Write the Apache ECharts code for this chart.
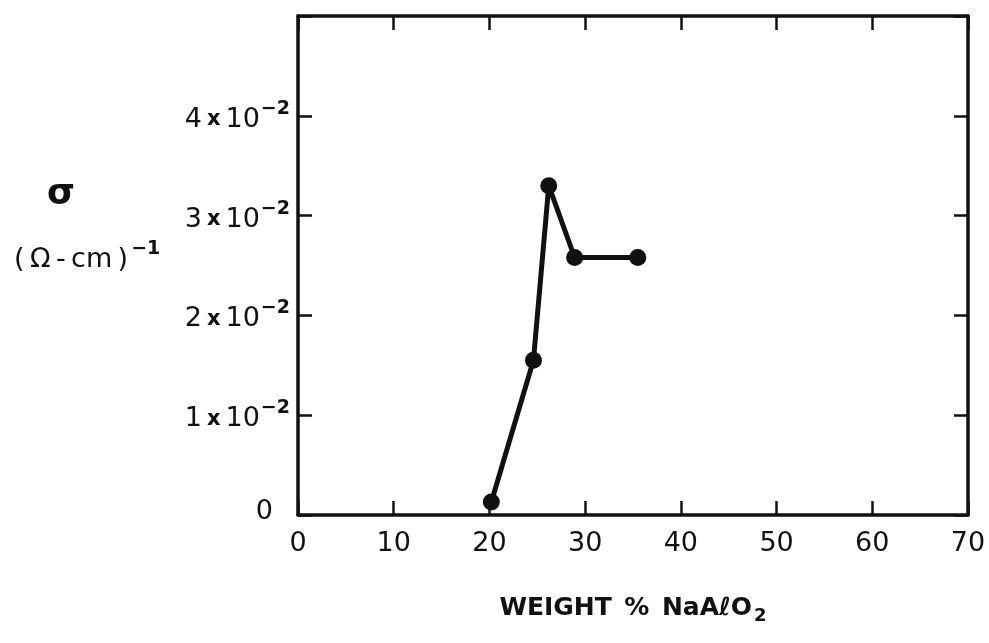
<!DOCTYPE html>
<html>
<head>
<meta charset="utf-8">
<script src="https://cdn.jsdelivr.net/npm/echarts@6/dist/echarts.min.js"></script>
<style>
  html, body { margin: 0; padding: 0; background: #ffffff; }
  #chart { width: 989px; height: 643px; }
</style>
</head>
<body>
<div id="chart"></div>
<script>
// Conductivity of the sample versus NaAlO2 content
const weightPct = [20.2, 24.6, 26.2, 28.9, 35.5];
const sigma = [0.0013, 0.0155, 0.033, 0.0258, 0.0258];

// Axis scales and tick labels
const xTicks = [0, 10, 20, 30, 40, 50, 60, 70];
const yTickMantissa = ['0', '1', '2', '3', '4'];
const yStep = 0.01;
const yMax = 0.05;

const FONT = '"DejaVu Sans", sans-serif';
const INK = '#111111';

const chart = echarts.init(document.getElementById('chart'), null, { renderer: 'canvas' });

const tickStyle = { show: true, inside: true, length: 14, lineStyle: { color: INK, width: 2.5 } };
const axisLineStyle = { show: true, onZero: false, lineStyle: { color: INK, width: 3.5 } };

chart.setOption({
  backgroundColor: '#ffffff',
  animation: false,
  grid: { left: 298, right: 21, top: 16, bottom: 128, containLabel: false },
  xAxis: [
    {
      type: 'value', position: 'bottom', min: 0, max: 70, interval: 10,
      axisLine: axisLineStyle, axisTick: tickStyle, splitLine: { show: false },
      axisLabel: {
        margin: 15, color: INK, fontFamily: FONT, fontSize: 27,
        formatter: v => xTicks.includes(v) ? String(v) : ''
      },
      name: '{t|WEIGHT\u2002%\u2002NaAℓO}{sub|2}',
      nameLocation: 'middle', nameGap: 77,
      nameTextStyle: {
        rich: {
          t: { fontFamily: FONT, fontSize: 25, color: INK, fontWeight: 'bold' },
          sub: { fontFamily: FONT, fontSize: 18, color: INK, fontWeight: 'bold', padding: [15, 0, 0, 2] }
        }
      }
    },
    {
      type: 'value', position: 'top', min: 0, max: 70, interval: 10,
      axisLine: axisLineStyle, axisTick: tickStyle, axisLabel: { show: false }, splitLine: { show: false }
    }
  ],
  yAxis: [
    {
      type: 'value', position: 'left', min: 0, max: yMax, interval: yStep,
      axisLine: axisLineStyle, axisTick: tickStyle, splitLine: { show: false },
      axisLabel: {
        margin: 8, color: INK,
        formatter: v => {
          const i = Math.round(v / yStep);
          if (i >= yTickMantissa.length) return '';
          if (i === 0) return '{z|' + yTickMantissa[0] + '}';
          return '{m|' + yTickMantissa[i] + '}{x|x}{m|10}{s|\u22122}';
        },
        rich: {
          z: { fontFamily: FONT, fontSize: 27, color: INK, padding: [0, 17, 6, 0] },
          m: { fontFamily: FONT, fontSize: 27, color: INK, padding: [8, 0, 0, 0] },
          x: { fontFamily: FONT, fontSize: 21, color: INK, fontWeight: 'bold', padding: [8, 5, 0, 5] },
          s: { fontFamily: FONT, fontSize: 19, color: INK, fontWeight: 'bold', padding: [0, 0, 14, 1] }
        }
      }
    },
    {
      type: 'value', position: 'right', min: 0, max: yMax, interval: yStep,
      axisLine: axisLineStyle, axisTick: tickStyle, axisLabel: { show: false }, splitLine: { show: false }
    }
  ],
  graphic: [
    {
      type: 'text', left: 47, top: 177,
      style: { text: 'σ', font: 'bold 36px ' + FONT, fill: INK }
    },
    {
      type: 'text', left: 14, top: 240,
      style: {
        text: '{m|(\u2009Ω\u2009-\u2009cm\u2009)}{s|\u22121}',
        rich: {
          m: { fontFamily: FONT, fontSize: 27, fill: INK, color: INK, padding: [8, 0, 0, 0] },
          s: { fontFamily: FONT, fontSize: 19, fontWeight: 'bold', fill: INK, color: INK, padding: [0, 0, 12, 3] }
        }
      }
    }
  ],
  series: [
    {
      type: 'line',
      xAxisIndex: 0, yAxisIndex: 0,
      data: weightPct.map((w, i) => [w, sigma[i]]),
      symbol: 'circle', symbolSize: 17,
      lineStyle: { color: INK, width: 5 },
      itemStyle: { color: INK },
      z: 5
    }
  ]
});
</script>
</body>
</html>
